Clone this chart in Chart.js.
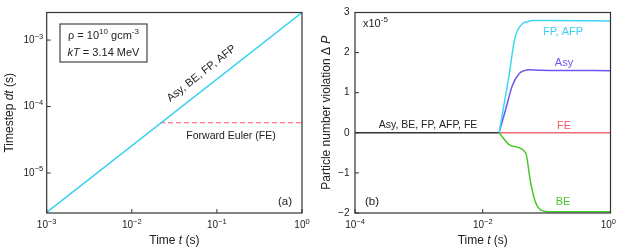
<!DOCTYPE html>
<html><head><meta charset="utf-8">
<script src="https://cdn.jsdelivr.net/npm/chart.js@4/dist/chart.umd.min.js"></script>
<style>
html,body{margin:0;padding:0;background:#fff;}
#wrap{position:relative;width:617px;height:249px;overflow:hidden;background:#fff;}
#c1{position:absolute;left:0;top:0;}
#c2{position:absolute;left:310px;top:0;}
</style></head><body>
<div id="wrap"><canvas id="c1" width="310" height="249"></canvas><canvas id="c2" width="307" height="249"></canvas></div>
<script>
// ---------- data: panel (a) ----------
const aTicksX = [1e-3, 1e-2, 1e-1, 1];
const aTicksY = [1e-5, 1e-4, 1e-3];
const implicitTimes = [1e-3, 1];
const implicitDt = [2.55e-6, 2.6e-3];
const feTimes = [0.0215, 1];
const feDt = [5.7e-5, 5.7e-5];

// ---------- data: panel (b) ----------
const bTicksX = [1e-4, 1e-2, 1];
const bTicksY = [-2, -1, 0, 1, 2, 3];
const allTimes = [1e-4, 0.018];
const allValues = [0, 0];
const fpTimes = [0.018, 0.0258, 0.031, 0.035, 0.0417, 0.05, 0.0596, 0.1, 1];
const fpValues = [0, 1.43, 2.27, 2.55, 2.72, 2.77, 2.8, 2.8, 2.79];
const asyTimes = [0.018, 0.023, 0.0291, 0.037, 0.045, 0.053, 0.08, 1];
const asyValues = [0, 0.6, 1.18, 1.475, 1.55, 1.575, 1.56, 1.55];
const beTimes = [0.018, 0.0275, 0.047, 0.056, 0.067, 0.085, 0.12, 1];
const beValues = [0, -0.32, -0.5, -1.23, -1.73, -1.94, -1.97, -1.97];
const fe2Times = [0.018, 1];
const fe2Values = [0, 0];

const FONT = '"Liberation Sans", Arial, Helvetica, sans-serif';
function pts(xs, ys){ return xs.map((x,i)=>({x:x, y:ys[i]})); }

// mixed text: parts [{t, s:'i'|'sup'}]
function richWidth(ctx, parts, size){
  let w = 0;
  parts.forEach(p=>{ ctx.font = fontFor(p, size); w += ctx.measureText(p.t).width; });
  return w;
}
function fontFor(p, size){
  return p.s==='i' ? `italic ${size}px ${FONT}` : p.s==='sup' ? `${Math.round(size*0.74*2)/2}px ${FONT}` : `${size}px ${FONT}`;
}
function rich(ctx, parts, x, y, size, align, color){
  const w = richWidth(ctx, parts, size);
  let cx = align==='center' ? x - w/2 : (align==='right' ? x - w : x);
  ctx.fillStyle = color || '#222'; ctx.textBaseline = 'middle'; ctx.textAlign = 'left';
  parts.forEach(p=>{ ctx.font = fontFor(p, size); ctx.fillText(p.t, cx, p.s==='sup' ? y - size*0.36 : y); cx += ctx.measureText(p.t).width; });
}
function powParts(v){
  const e = Math.round(Math.log10(v));
  return [{t:'10'},{t: (e<0 ? '\u2212' + (-e) : String(e)), s:'sup'}];
}

const framePlugin = {
  id: 'frame',
  afterDatasetsDraw(chart, args, opts){
    const {ctx, chartArea:a} = chart;
    const xs = chart.scales.x, ys = chart.scales.y;
    ctx.save();
    ctx.strokeStyle = '#333'; ctx.lineWidth = 1.2;
    ctx.strokeRect(a.left, a.top, a.right - a.left, a.bottom - a.top);
    ctx.lineWidth = 1;
    ctx.beginPath();
    xs.ticks.forEach(t => { const p = xs.getPixelForValue(t.value); ctx.moveTo(p, a.bottom); ctx.lineTo(p, a.bottom - 4); });
    ys.ticks.forEach(t => { const p = ys.getPixelForValue(t.value); ctx.moveTo(a.left, p); ctx.lineTo(a.left + 4, p); });
    ctx.stroke();
    // tick labels, positioned through the chart's scales
    xs.ticks.forEach(t => {
      const parts = powParts(t.value);
      let p = xs.getPixelForValue(t.value);
      const w = richWidth(ctx, parts, 10);
      if (opts.clampRight && p + w/2 > chart.width - 1) p = chart.width - 1 - w/2;
      rich(ctx, parts, p, 225.5, 10, 'center', '#222');
    });
    ys.ticks.forEach(t => {
      const p = ys.getPixelForValue(t.value);
      const parts = opts.logY ? powParts(t.value) : [{t: t.value < 0 ? '\u2212' + Math.abs(t.value) : String(t.value)}];
      rich(ctx, parts, a.left - opts.yGap, p, 10, 'right', '#222');
    });
    if (opts.draw) opts.draw(ctx, a, xs, ys);
    ctx.restore();
  }
};

function fixX(h){ return function(s){ s.height = h; s.paddingLeft = 0; s.paddingRight = 0; }; }
function fixY(w){ return function(s){ s.width = w; s.paddingTop = 0; s.paddingBottom = 0; }; }

// ---------- panel (a) ----------
new Chart(document.getElementById('c1'), {
  type: 'line',
  data: { datasets: [
    { data: pts(implicitTimes, implicitDt), borderColor: '#3cd2f2', borderWidth: 1.5, pointRadius: 0, fill: false },
    { data: pts(feTimes, feDt), borderColor: '#ff4a66', borderWidth: 1.2, borderDash: [5,3], pointRadius: 0, fill: false }
  ]},
  options: {
    responsive: false, animation: false, devicePixelRatio: 1,
    layout: { padding: { top: 12.5, right: 8, left: 0, bottom: 0 } },
    plugins: { legend: {display:false}, tooltip: {enabled:false},
      frame: { logY: true, yGap: 3.5, clampRight: false, draw(ctx, a, xs, ys){
        ctx.strokeStyle = '#444'; ctx.lineWidth = 1.2;
        ctx.strokeRect(60, 24, 87, 38);
        rich(ctx, [{t:'ρ = 10'},{t:'10',s:'sup'},{t:' gcm'},{t:'-3',s:'sup'}], 103.5, 36, 11, 'center', '#222');
        rich(ctx, [{t:'kT',s:'i'},{t:' = 3.14 MeV'}], 103.5, 53, 11, 'center', '#222');
        ctx.save(); ctx.translate(201.5, 73.5); ctx.rotate(-38.3*Math.PI/180);
        rich(ctx, [{t:'Asy, BE, FP, AFP'}], 0, 0, 11, 'center', '#222');
        ctx.restore();
        rich(ctx, [{t:'Forward Euler (FE)'}], 231, 136, 10.5, 'center', '#222');
        rich(ctx, [{t:'(a)'}], 285, 202, 11.5, 'center', '#222');
        rich(ctx, [{t:'Time '},{t:'t',s:'i'},{t:' (s)'}], (a.left+a.right)/2, 241, 12, 'center', '#222');
        ctx.save(); ctx.translate(10, (a.top+a.bottom)/2); ctx.rotate(-Math.PI/2);
        rich(ctx, [{t:'Timestep '},{t:'dt',s:'i'},{t:' (s)'}], 0, 0, 12, 'center', '#222');
        ctx.restore();
      } }
    },
    scales: {
      x: { type: 'logarithmic', min: 1e-3, max: 1,
        afterBuildTicks: s => { s.ticks = aTicksX.map(v=>({value:v})); },
        afterFit: fixX(36),
        grid: {display:false, drawTicks:false}, border: {display:false},
        ticks: { display: false } },
      y: { type: 'logarithmic', min: 2.5e-6, max: 2.6e-3,
        afterBuildTicks: s => { s.ticks = aTicksY.map(v=>({value:v})); },
        afterFit: fixY(46.7),
        grid: {display:false, drawTicks:false}, border: {display:false},
        ticks: { display: false } }
    }
  },
  plugins: [framePlugin]
});

// ---------- panel (b) ----------
new Chart(document.getElementById('c2'), {
  type: 'line',
  data: { datasets: [
    { data: pts(fpTimes, fpValues), borderColor: '#40d6f6', borderWidth: 1.5, pointRadius: 0, cubicInterpolationMode: 'monotone', fill: false },
    { data: pts(asyTimes, asyValues), borderColor: '#6a58f0', borderWidth: 1.5, pointRadius: 0, cubicInterpolationMode: 'monotone', fill: false },
    { data: pts(beTimes, beValues), borderColor: '#44c82a', borderWidth: 1.5, pointRadius: 0, cubicInterpolationMode: 'monotone', fill: false },
    { data: pts(fe2Times, fe2Values), borderColor: '#f06a7a', borderWidth: 1.5, pointRadius: 0, fill: false },
    { data: pts(allTimes, allValues), borderColor: '#333333', borderWidth: 1.5, pointRadius: 0, fill: false }
  ]},
  options: {
    responsive: false, animation: false, devicePixelRatio: 1,
    layout: { padding: { top: 12.5, right: 6.5, left: 0, bottom: 0 } },
    plugins: { legend: {display:false}, tooltip: {enabled:false},
      frame: { logY: false, yGap: 5.5, clampRight: true, draw(ctx, a, xs, ys){
        rich(ctx, [{t:'x10'},{t:'-5',s:'sup'}], 53, 24, 11, 'left', '#222');
        rich(ctx, [{t:'FP, AFP'}], 253, 32, 11, 'center', '#3ccff0');
        rich(ctx, [{t:'Asy'}], 254, 63, 11, 'center', '#6a58f0');
        rich(ctx, [{t:'FE'}], 254, 126, 11, 'center', '#f05a6a');
        rich(ctx, [{t:'BE'}], 253, 202, 11, 'center', '#44c82a');
        rich(ctx, [{t:'Asy, BE, FP, AFP, FE'}], 118, 125, 10.5, 'center', '#222');
        rich(ctx, [{t:'(b)'}], 62, 202, 11.5, 'center', '#222');
        rich(ctx, [{t:'Time '},{t:'t',s:'i'},{t:' (s)'}], (a.left+a.right)/2, 241, 12, 'center', '#222');
        ctx.save(); ctx.translate(17, (a.top+a.bottom)/2); ctx.rotate(-Math.PI/2);
        rich(ctx, [{t:'Particle number violation Δ '},{t:'P',s:'i'}], 0, 0, 12, 'center', '#222');
        ctx.restore();
      } }
    },
    scales: {
      x: { type: 'logarithmic', min: 1e-4, max: 1,
        afterBuildTicks: s => { s.ticks = bTicksX.map(v=>({value:v})); },
        afterFit: fixX(36),
        grid: {display:false, drawTicks:false}, border: {display:false},
        ticks: { display: false } },
      y: { type: 'linear', min: -2, max: 3,
        afterBuildTicks: s => { s.ticks = bTicksY.map(v=>({value:v})); },
        afterFit: fixY(45),
        grid: {display:false, drawTicks:false}, border: {display:false},
        ticks: { display: false } }
    }
  },
  plugins: [framePlugin]
});
</script>
</body></html>
